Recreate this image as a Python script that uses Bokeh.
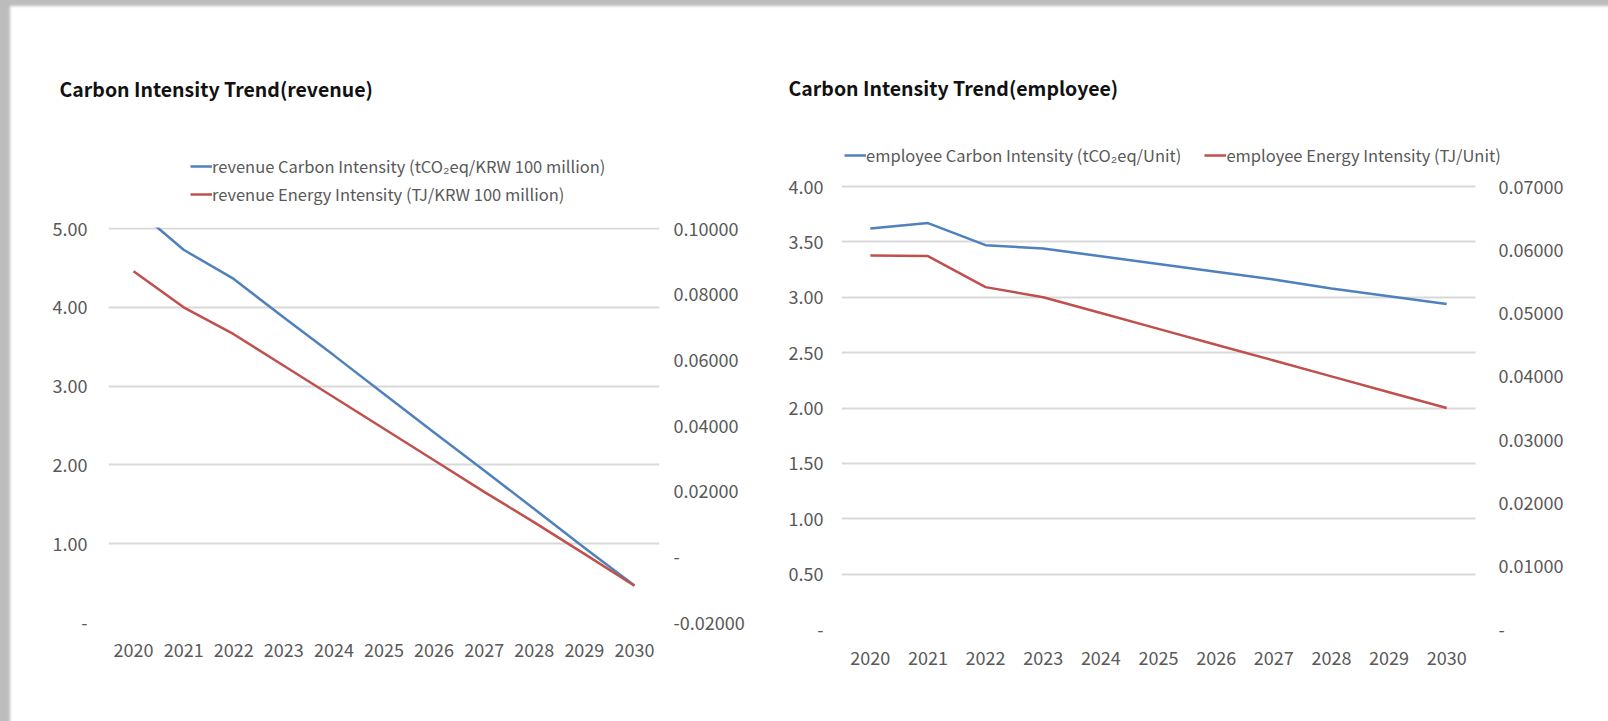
from bokeh.plotting import figure
from bokeh.models import (Range1d, LinearAxis, FixedTicker, CustomJSTickFormatter,
                          Legend, LegendItem, BoxAnnotation)
from bokeh.layouts import row
from bokeh.embed import file_html
from bokeh.resources import INLINE

# ---------------- data ----------------
years = [2020, 2021, 2022, 2023, 2024, 2025, 2026, 2027, 2028, 2029, 2030]

rev_carbon = [5.27, 4.73, 4.36, 3.87, 3.39, 2.90, 2.41, 1.93, 1.44, 0.95, 0.47]
rev_energy = [0.0870, 0.0760, 0.0678, 0.0582, 0.0486, 0.0390, 0.0294, 0.0198, 0.0105, 0.0009, -0.0088]

emp_carbon = [3.62, 3.67, 3.47, 3.44, 3.37, 3.30, 3.23, 3.16, 3.08, 3.01, 2.94]
emp_energy = [0.0591, 0.0590, 0.0541, 0.0525, 0.0500, 0.0475, 0.0450, 0.0425, 0.0400, 0.0375, 0.0350]

rev_left_ticks = [0, 1, 2, 3, 4, 5]
rev_right_ticks = [-0.02, 0.0, 0.02, 0.04, 0.06, 0.08, 0.10]
emp_left_ticks = [0, 0.5, 1.0, 1.5, 2.0, 2.5, 3.0, 3.5, 4.0]
emp_right_ticks = [0.0, 0.01, 0.02, 0.03, 0.04, 0.05, 0.06, 0.07]

title_rev = "Carbon Intensity Trend(revenue)"
title_emp = "Carbon Intensity Trend(employee)"
lbl_rev_c = "revenue Carbon Intensity (tCO\u2082eq/KRW 100 million)"
lbl_rev_e = "revenue Energy Intensity (TJ/KRW 100 million)"
lbl_emp_c = "employee Carbon Intensity (tCO\u2082eq/Unit)"
lbl_emp_e = "employee Energy Intensity (TJ/Unit)"

BLUE = "#4F81BD"
RED = "#C0504D"
GRID = "#D9D9D9"
TXT = "#595959"
FONT = "'Noto Sans CJK KR', 'Liberation Sans', sans-serif"


def fmt(decimals):
    return CustomJSTickFormatter(
        code="return Math.abs(tick) < 1e-9 ? '-' : tick.toFixed(%d);" % decimals)


def style_axis(ax, standoff):
    ax.axis_line_color = None
    ax.major_tick_line_color = None
    ax.minor_tick_line_color = None
    ax.major_tick_in = 0
    ax.major_tick_out = 0
    ax.major_label_standoff = standoff
    ax.major_label_text_font = FONT
    ax.major_label_text_font_size = "18px"
    ax.major_label_text_color = TXT


def make_chart(x0, width, borders, grid_top, grid_right, left_ticks, right_ticks,
               stand, carbon, energy, labels, legend_cfg, title, title_cfg, mask_top):
    bl, br, bt, bb = borders
    # the frame may reach above the top tick (room for the legend) and right of
    # the last category (room for a long legend label); ranges are scaled so
    # that the gridlines and categories land where the reference draws them
    frame_h = 721 - bt - bb
    grid_h = frame_h - (grid_top - bt)
    frame_r = x0 + width - br
    cat_w = (grid_right - (x0 + bl)) / len(years)
    x_start = years[0] - 0.5
    x_last = years[-1] + 0.5
    x_end = x_last + (frame_r - grid_right) / cat_w
    lt, rt = left_ticks[-1], right_ticks[-1]
    rb = right_ticks[0]
    y_end = lt * frame_h / grid_h
    r_end = rb + (rt - rb) * frame_h / grid_h
    p = figure(width=width, height=721, output_backend="svg", toolbar_location=None,
               x_range=Range1d(x_start, x_end), y_range=Range1d(0, y_end),
               min_border_left=bl, min_border_right=br, min_border_top=bt,
               min_border_bottom=bb, frame_align=False)
    p.outline_line_color = None
    p.background_fill_color = "white"
    p.border_fill_color = None
    p.xgrid.grid_line_color = None
    p.ygrid.grid_line_color = GRID
    p.ygrid.grid_line_width = 2
    p.yaxis.ticker = FixedTicker(ticks=left_ticks)
    p.yaxis.formatter = fmt(2)
    p.xaxis.ticker = FixedTicker(ticks=years)
    p.xaxis.formatter = CustomJSTickFormatter(code="return tick.toFixed(0);")
    style_axis(p.yaxis[0], stand[0])
    style_axis(p.xaxis[0], stand[2])

    p.extra_y_ranges = {"r": Range1d(rb, r_end)}
    rax = LinearAxis(y_range_name="r", ticker=FixedTicker(ticks=right_ticks),
                     formatter=fmt(5))
    style_axis(rax, stand[1])
    p.add_layout(rax, "right")

    if x_end > x_last + 1e-9:
        # gridlines stop at the last category (drawn under axes and lines)
        p.add_layout(BoxAnnotation(left=x_last, fill_color="white", fill_alpha=1.0,
                                   line_alpha=0, level="underlay"))

    rc = p.line(years, carbon, line_color=BLUE, line_width=2.5)
    re_ = p.line(years, energy, line_color=RED, line_width=2.5, y_range_name="r")

    if mask_top:
        # the value axis stops at its top tick, as in the reference
        p.add_layout(BoxAnnotation(bottom=lt * 1.0025, fill_color="white", fill_alpha=1.0,
                                   line_alpha=0))

    orient, loc, spacing, lw = legend_cfg
    lg = Legend(items=[LegendItem(label=labels[0], renderers=[rc]),
                       LegendItem(label=labels[1], renderers=[re_])],
                location=loc, orientation=orient, glyph_width=22, glyph_height=10,
                label_height=20, label_width=lw, label_standoff=0, padding=0,
                margin=0, spacing=spacing, border_line_color=None,
                background_fill_alpha=0, label_text_font=FONT,
                label_text_font_size="16.5px", label_text_color=TXT)
    p.add_layout(lg, "center")

    p.title.text = title
    p.title.align = "left"
    p.title.offset = title_cfg[0]
    p.title.standoff = title_cfg[1]
    p.title.text_font = FONT
    p.title.text_font_size = "19.5px"
    p.title.text_font_style = "bold"
    p.title.text_color = "#111111"
    return p


p1 = make_chart(0, 760, (108, 101, 130, 99), 228, 659,
                rev_left_ticks, rev_right_ticks, (21, 14, 20),
                rev_carbon, rev_energy, (lbl_rev_c, lbl_rev_e),
                ("vertical", (82, 416), 4, 20), title_rev, (-49, 56), True)

p2 = make_chart(760, 848, (81, 96, 120, 92), 186, 1475,
                emp_left_ticks, emp_right_ticks, (18, -14, 21),
                emp_carbon, emp_energy, (lbl_emp_c, lbl_emp_e),
                ("horizontal", (3, 462), 23, 312), title_emp, (-53, 38), False)

layout = row(p1, p2, styles={"background-color": "white",
                             "box-shadow": "inset 11px 7px 3px -1px #bcbcbc"})
open("out.html", "w").write(file_html(layout, INLINE))
